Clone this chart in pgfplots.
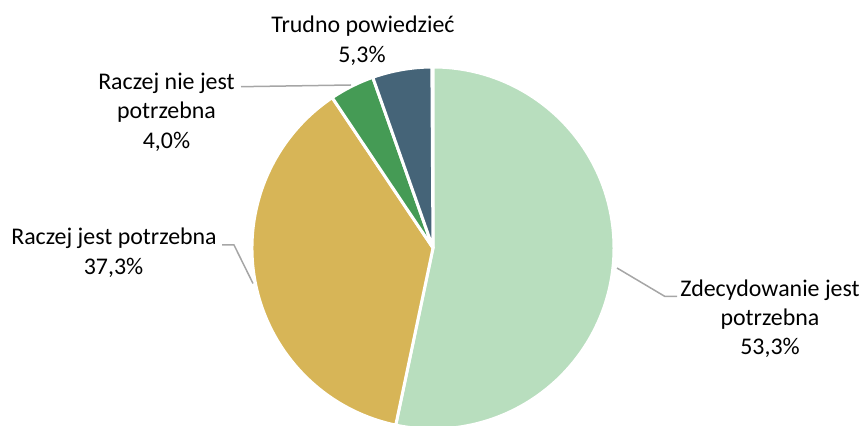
\documentclass[border=0pt]{standalone}
\usepackage{pgfplots}
\pgfplotsset{compat=1.18}
\usepackage{fontspec}
\setmainfont{Carlito}
\definecolor{c1}{HTML}{B8DEBE}
\definecolor{c2}{HTML}{D7B557}
\definecolor{c3}{HTML}{459B55}
\definecolor{c4}{HTML}{456478}
\definecolor{leader}{HTML}{A6A6A6}
% shares in percent, clockwise from 12 o'clock
\def\pA{53.3}\def\pB{37.3}\def\pC{4.0}\def\pD{5.3}
\begin{document}
\begin{tikzpicture}
\begin{axis}[
  width=862bp, height=426bp, scale only axis,
  xmin=0, xmax=862, ymin=0, ymax=426,
  hide axis, clip=true,
]
\pgfplotsextra{
  \def\cx{433}\def\cy{178}\def\R{181bp}
  \pgfmathsetmacro{\aA}{90}
  \pgfmathsetmacro{\aB}{\aA-3.6*\pA}
  \pgfmathsetmacro{\aC}{\aB-3.6*\pB}
  \pgfmathsetmacro{\aD}{\aC-3.6*\pC}
  \pgfmathsetmacro{\aE}{\aD-3.6*\pD}
  \foreach \s/\e/\c in {\aA/\aB/c1,\aB/\aC/c2,\aC/\aD/c3,\aD/\aE/c4}{
    \fill[\c, draw=white, line width=3bp, line join=round]
      (axis cs:\cx,\cy) -- ++(\s:\R) arc[start angle=\s, end angle=\e, radius=\R] -- cycle;
  }
}
% leader lines
\draw[leader, line width=1.5bp] (axis cs:241,339.3) -- (axis cs:351,341);
\draw[leader, line width=1.5bp] (axis cs:222,181) -- (axis cs:234,181) -- (axis cs:253,142.5);
\draw[leader, line width=1.5bp] (axis cs:617,158) -- (axis cs:665,129.5) -- (axis cs:677,129.5);
% labels
\begin{scope}[every node/.style={anchor=base, inner sep=0pt, font=\fontsize{23.9bp}{30bp}\selectfont}]
\node at (axis cs:363,393) {Trudno powiedzieć};
\node at (axis cs:362,363) {5,3\%};
\node at (axis cs:166.5,336.5) {Raczej nie jest};
\node at (axis cs:166.5,307) {potrzebna};
\node at (axis cs:166.5,277.5) {4,0\%};
\node at (axis cs:114,181) {Raczej jest potrzebna};
\node at (axis cs:113.5,151) {37,3\%};
\node at (axis cs:770,129.5) {Zdecydowanie jest};
\node at (axis cs:770,100.5) {potrzebna};
\node at (axis cs:770,71) {53,3\%};
\end{scope}
\end{axis}
\pgfresetboundingbox
\path[use as bounding box] (current axis.south west) rectangle (current axis.north east);
\end{tikzpicture}
\end{document}
